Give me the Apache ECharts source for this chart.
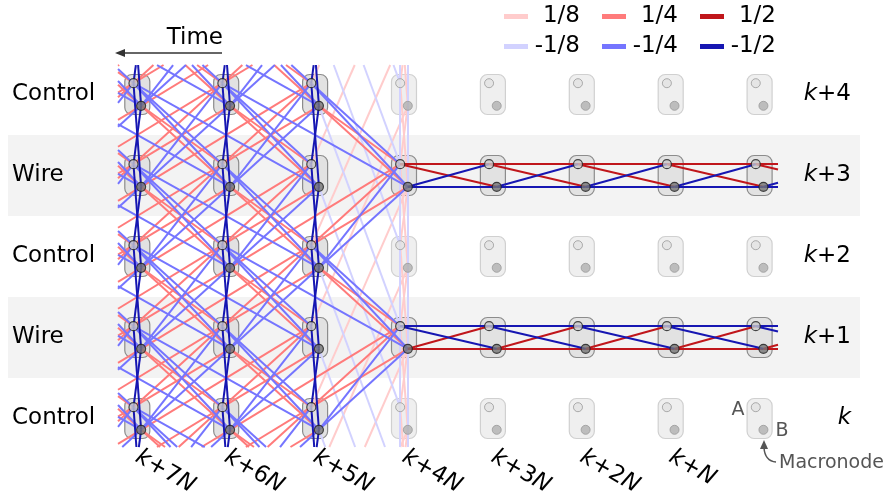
<!DOCTYPE html>
<html>
<head>
<meta charset="utf-8">
<script src="https://cdn.jsdelivr.net/npm/echarts@6/dist/echarts.min.js"></script>
<style>
html, body { margin: 0; padding: 0; background: #fff; }
#chart { width: 888px; height: 499px; }
</style>
</head>
<body>
<div id="chart"></div>
<script>
// ---- data ----
// time-step labels under the columns; the last column (k) is labelled on the right
const columnLabels = ['k+7N', 'k+6N', 'k+5N', 'k+4N', 'k+3N', 'k+2N', 'k+N'];
const rowLabels = ['k+4', 'k+3', 'k+2', 'k+1', 'k'];
const rowRoles = ['Control', 'Wire', 'Control', 'Wire', 'Control'];
const wireRows = [1, 3];
const latticeColumns = [0, 1, 2];          // columns still holding the full lattice
const weightNames = ['1/8', '-1/8', '1/4', '-1/4', '1/2', '-1/2'];
const weightValues = [0.125, -0.125, 0.25, -0.25, 0.5, -0.5];

// couplings: [fromPort, dColumn, dRow, toPort, weight]
const latticeCouplings = [
  ['A', 0, 1, 'B', -0.5], ['B', 0, 1, 'A', -0.5],
  ['A', 1, 1, 'A', -0.25], ['B', 1, 1, 'B', 0.25],
  ['A', 1, 1, 'B', -0.25], ['B', 1, 1, 'A', 0.25],
  ['A', 1, -1, 'A', 0.25], ['B', 1, -1, 'B', -0.25],
  ['A', 1, -1, 'B', 0.25], ['B', 1, -1, 'A', -0.25],
  ['B', 2, -1, 'A', 0.25], ['A', 2, 1, 'B', -0.25]
];
const residualColumnCouplings = [
  ['A', 0, 1, 'A', -0.125], ['B', 0, 1, 'B', -0.125],
  ['A', 0, 1, 'B', 0.125], ['B', 0, 1, 'A', 0.125]
];
const residualBridgeCouplings = [
  ['A', 1, -3, 'B', 0.125], ['B', 1, 3, 'A', -0.125]
];
const wireCouplings = {
  1: [['A', 1, 0, 'A', 0.5], ['B', 1, 0, 'B', -0.5], ['A', 1, 0, 'B', 0.5], ['B', 1, 0, 'A', -0.5]],
  3: [['A', 1, 0, 'A', -0.5], ['B', 1, 0, 'B', 0.5], ['A', 1, 0, 'B', -0.5], ['B', 1, 0, 'A', 0.5]]
};

// ---- styling / layout ----
const FONT = 'DejaVu Sans';
const FS = 23;
const palette = ['#ffcccc', '#d2d2ff', '#ff7b7b', '#7575ff', '#c0161b', '#1616b2'];
const PX = 0.043, PY = 0.1395;                 // port offsets inside a macronode
const clipBox = [-0.217, 7.207, -0.364, 4.352];
const nCols = columnLabels.length + 1;

function port(c, r, name) {
  return name === 'A' ? [c - PX, r - PY] : [c + PX, r + PY];
}
function clipSegment(p, q, box) {
  let t0 = 0, t1 = 1;
  const dx = q[0] - p[0], dy = q[1] - p[1];
  const checks = [[-dx, p[0] - box[0]], [dx, box[1] - p[0]], [-dy, p[1] - box[2]], [dy, box[3] - p[1]]];
  for (const [pp, qq] of checks) {
    if (pp === 0) { if (qq < 0) return null; }
    else {
      const t = qq / pp;
      if (pp < 0) { if (t > t1) return null; if (t > t0) t0 = t; }
      else { if (t < t0) return null; if (t < t1) t1 = t; }
    }
  }
  return [[p[0] + t0 * dx, p[1] + t0 * dy], [p[0] + t1 * dx, p[1] + t1 * dy]];
}
const buckets = weightValues.map(() => []);
function addEdge(p, q, w) {
  const seg = clipSegment(p, q, clipBox);
  if (seg) buckets[weightValues.indexOf(w)].push({ coords: seg });
}
const lastLattice = Math.max(...latticeColumns);
function isLatticeNode(c, r) {
  return (c <= lastLattice) || (c === lastLattice + 1 && wireRows.includes(r));
}
// full lattice (extends beyond the visible window, then clipped)
for (let c = -3; c <= lastLattice; c++) {
  for (let r = -2; r <= 6; r++) {
    for (const [f, dc, dr, t, w] of latticeCouplings) {
      if (isLatticeNode(c + dc, r + dr)) addEdge(port(c, r, f), port(c + dc, r + dr, t), w);
    }
  }
}
// residual weak couplings around the first measured column
for (let r = -3; r <= 7; r++) {
  for (const [f, dc, dr, t, w] of residualColumnCouplings) {
    addEdge(port(lastLattice + 1, r, f), port(lastLattice + 1 + dc, r + dr, t), w);
  }
  for (const [f, dc, dr, t, w] of residualBridgeCouplings) {
    addEdge(port(lastLattice, r, f), port(lastLattice + dc, r + dr, t), w);
  }
}
// macronode wires
for (const r of wireRows) {
  for (let c = lastLattice + 1; c < nCols; c++) {
    for (const [f, dc, dr, t, w] of wireCouplings[r]) {
      addEdge(port(c, r, f), port(c + dc, r + dr, t), w);
    }
  }
}

// macronodes
const boxes = [], nodes = [];
for (let c = 0; c < nCols; c++) {
  for (let r = 0; r < rowLabels.length; r++) {
    const active = c <= lastLattice || wireRows.includes(r);
    boxes.push([c, r, active ? 1 : 0]);
    nodes.push({ value: port(c, r, 'A'), itemStyle: active
      ? { color: '#c9c9c9', borderColor: '#1e1e1e', borderWidth: 1.2 }
      : { color: '#e2e2e2', borderColor: '#9a9a9a', borderWidth: 1 } });
    nodes.push({ value: port(c, r, 'B'), itemStyle: active
      ? { color: '#767676', borderColor: '#1e1e1e', borderWidth: 1.2 }
      : { color: '#b0b0b0', borderColor: '#9a9a9a', borderWidth: 1 } });
  }
}

const italicK = v => v.replace(/^k/, '{i|k}').replace(/N$/, '{i|N}');
const richItalic = { i: { fontStyle: 'italic', fontSize: FS, fontFamily: FONT, color: '#000' } };

const lineSeries = weightNames.map((name, i) => ({
  type: 'lines',
  name: name,
  coordinateSystem: 'cartesian2d',
  xAxisIndex: 0, yAxisIndex: 0,
  polyline: false,
  clip: false,
  silent: true,
  z: 3,
  itemStyle: { color: palette[i] },
  lineStyle: { color: palette[i], width: 2, opacity: 1 },
  data: buckets[i]
}));

const legendCommon = {
  orient: 'horizontal', padding: 0, left: 504,
  itemWidth: 22, itemHeight: 3, itemGap: 22, icon: 'rect',
  selectedMode: false,
  formatter: '{w|{name}}',
  textStyle: { fontSize: FS, fontFamily: FONT, color: '#000',
    rich: { w: { width: 48, align: 'right', fontSize: FS, fontFamily: FONT, color: '#000' } } }
};
const hiddenParts = { axisLine: { show: false }, axisTick: { show: false }, splitLine: { show: false } };

const chart = echarts.init(document.getElementById('chart'), null, { renderer: 'canvas' });
chart.setOption({
  animation: false,
  backgroundColor: '#fff',
  textStyle: { fontFamily: FONT },
  grid: [
    { left: 48.4, right: 39.5, top: 54, bottom: 40, containLabel: false },
    { left: 92.85, right: 83.95, top: 54, bottom: 40, containLabel: false }
  ],
  xAxis: [
    { gridIndex: 0, type: 'value', min: -1, max: 8, show: false },
    Object.assign({ gridIndex: 1, type: 'category', data: [...columnLabels, ''], boundaryGap: true,
      position: 'bottom', z: 10,
      axisLabel: { interval: 0, rotate: -30, margin: 9, fontSize: FS, fontFamily: FONT, color: '#000',
        formatter: italicK, rich: richItalic } }, hiddenParts)
  ],
  yAxis: [
    { gridIndex: 0, type: 'value', min: -0.5, max: 4.5, inverse: true, show: false },
    Object.assign({ gridIndex: 0, type: 'category', data: rowRoles, inverse: true, boundaryGap: true,
      position: 'left', z: 10,
      axisLabel: { interval: 0, align: 'left', margin: 36.4, fontSize: FS, fontFamily: FONT, color: '#000' } },
      hiddenParts),
    Object.assign({ gridIndex: 0, type: 'category', data: rowLabels, inverse: true, boundaryGap: true,
      position: 'right', z: 10,
      axisLabel: { interval: 0, align: 'right', margin: 2.5, fontSize: FS, fontFamily: FONT, color: '#000',
        formatter: italicK, rich: richItalic } }, hiddenParts),
    { gridIndex: 1, type: 'value', show: false }
  ],
  legend: [
    Object.assign({}, legendCommon, { top: 5, data: ['1/8', '1/4', '1/2'] }),
    Object.assign({}, legendCommon, { top: 35, data: ['-1/8', '-1/4', '-1/2'] })
  ],
  series: [
    {
      type: 'custom', name: 'rows', xAxisIndex: 0, yAxisIndex: 0, clip: false, silent: true, z: 0,
      data: wireRows.map(r => [0, r]),
      renderItem: (params, api) => {
        const r = api.value(1);
        const a = api.coord([-1.454, r - 0.5]);
        const b = api.coord([8.13, r + 0.5]);
        return { type: 'rect', shape: { x: a[0], y: a[1], width: b[0] - a[0], height: b[1] - a[1] },
          style: { fill: '#f3f3f3' } };
      }
    },
    {
      type: 'custom', name: 'macronodes', xAxisIndex: 0, yAxisIndex: 0, clip: false, silent: true, z: 2,
      data: boxes,
      renderItem: (params, api) => {
        const p = api.coord([api.value(0), api.value(1)]);
        const on = api.value(2) === 1;
        return { type: 'rect', shape: { x: p[0] - 12.5, y: p[1] - 20, width: 25, height: 40, r: 7 },
          style: { fill: on ? '#e2e2e2' : '#efefef', stroke: on ? '#8c8c8c' : '#d0d0d0', lineWidth: 1.2 } };
      }
    },
    ...lineSeries,
    {
      type: 'scatter', name: 'modes', xAxisIndex: 0, yAxisIndex: 0, clip: false, silent: true, z: 5,
      symbol: 'circle', symbolSize: 9, data: nodes
    }
  ],
  graphic: [
    { type: 'text', z: 10, x: 223, y: 38,
      style: { text: 'Time', fontSize: FS, fontFamily: FONT, fill: '#000', align: 'right', verticalAlign: 'middle' } },
    { type: 'line', z: 10, shape: { x1: 222, y1: 53, x2: 122, y2: 53 },
      style: { stroke: '#333', lineWidth: 1.5 } },
    { type: 'polygon', z: 10, shape: { points: [[115, 53], [125, 49], [125, 57]] },
      style: { fill: '#333' } },
    { type: 'text', z: 10, x: 738, y: 410,
      style: { text: 'A', fontSize: 19, fontFamily: FONT, fill: '#555', align: 'center', verticalAlign: 'middle' } },
    { type: 'text', z: 10, x: 782, y: 431,
      style: { text: 'B', fontSize: 19, fontFamily: FONT, fill: '#555', align: 'center', verticalAlign: 'middle' } },
    { type: 'text', z: 10, x: 779, y: 463,
      style: { text: 'Macronode', fontSize: 19, fontFamily: FONT, fill: '#555', align: 'left', verticalAlign: 'middle' } },
    { type: 'bezierCurve', z: 10,
      shape: { x1: 776, y1: 462, x2: 764, y2: 448, cpx1: 765, cpy1: 461 },
      style: { stroke: '#555', lineWidth: 1.5, fill: null } },
    { type: 'polygon', z: 10, shape: { points: [[764, 440], [760, 449], [768, 449]] },
      style: { fill: '#555' } }
  ]
});
</script>
</body>
</html>
